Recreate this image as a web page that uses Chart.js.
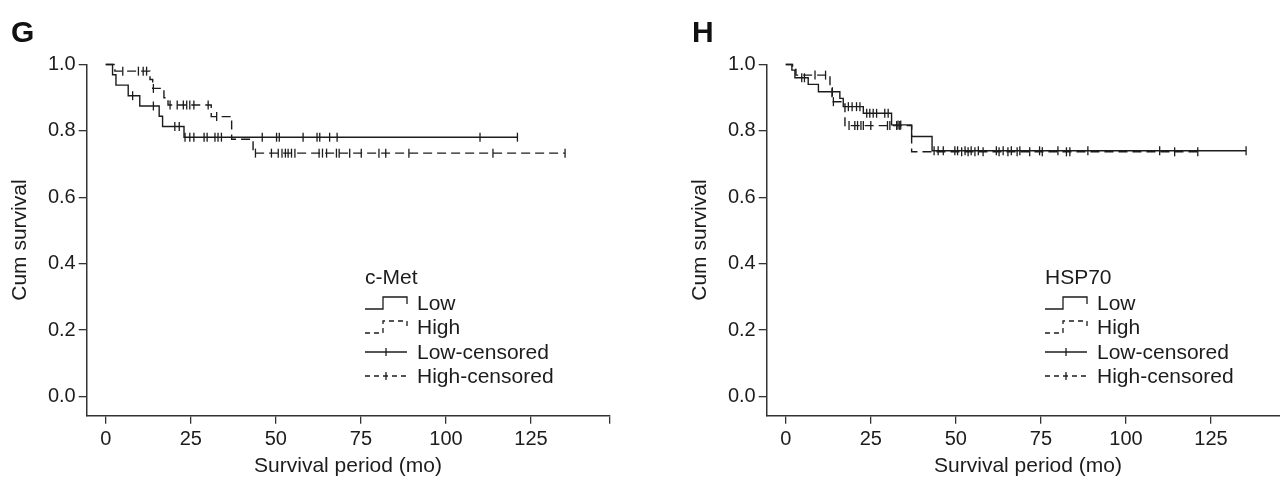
<!DOCTYPE html>
<html>
<head>
  <title>Survival curves - c-Met / HSP70</title>
  <script src="https://cdn.jsdelivr.net/npm/chart.js"></script>
  <style>
    html, body { margin: 0; padding: 0; background: #fff; }
    #wrap { position: relative; width: 1280px; height: 483px; overflow: hidden; }
    canvas { position: absolute; top: 0; }
    #chartG { left: 0; }
    #chartH { left: 680px; }
    .panel { position: absolute; top: 15px; font: bold 30px "Liberation Sans", Arial, sans-serif; color: #111; }
  </style>
</head>
<body>
  <div id="wrap">
    <canvas id="chartG" width="640" height="483"></canvas>
    <canvas id="chartH" width="640" height="483"></canvas>
    <div class="panel" style="left:11px">G</div>
    <div class="panel" style="left:692px">H</div>
  </div>

  <script>
    const X_TICKS = [0, 25, 50, 75, 100, 125, 148];
    const Y_TICKS = [0, 0.2, 0.4, 0.6, 0.8, 1.0];
    const LEGEND_LABELS = ["Low", "High", "Low-censored", "High-censored"];

    // c-Met (G)
    const cmetLowTime = [0, 2, 3, 6.6, 10, 15.7, 16.7, 23, 121];
    const cmetLowSurv = [1, 0.969, 0.938, 0.906, 0.875, 0.844, 0.813, 0.781, 0.781];
    const cmetLowCens = [7.9, 14, 20.3, 21.6, 23.3, 24.7, 25.9, 28.9, 29.8, 32.1, 33, 34, 46, 50.2, 51, 58, 62.1, 62.9, 65.8, 68, 110, 121];
    const cmetHighTime = [0, 2.7, 13, 13.8, 17.1, 18.3, 31, 37, 43.3, 135];
    const cmetHighSurv = [1, 0.98, 0.955, 0.928, 0.9, 0.878, 0.843, 0.775, 0.733, 0.733];
    const cmetHighCens = [5, 9.6, 11, 12, 14, 18.9, 21, 22.8, 23.8, 24.7, 25.9, 30.1, 32.6, 44, 48.7, 50.7, 51.8, 52.8, 53.6, 54.6, 55.6, 62.7, 63.7, 64.9, 67.8, 68.6, 71.7, 75.1, 80.3, 82.3, 89.1, 113.8, 135];

    // HSP70 (H)
    const hspLowTime = [0, 1.8, 2.7, 6.6, 9.6, 15.9, 16.9, 22.8, 31.1, 37, 43, 135.3];
    const hspLowSurv = [1, 0.983, 0.96, 0.94, 0.918, 0.898, 0.873, 0.853, 0.818, 0.783, 0.74, 0.74];
    const hspLowCens = [4.7, 5.5, 13.7, 18.4, 19.5, 20.8, 21.8, 23.8, 24.7, 25.7, 26.7, 29.1, 30.1, 33, 33.8, 43.6, 44.8, 46.3, 49.7, 50.5, 52.7, 54.5, 56.6, 61.9, 63.9, 66.3, 68.8, 74.6, 80, 88.8, 109.9, 135.3];
    const hspHighTime = [0, 2, 3, 13, 13.6, 17.4, 37, 121.1];
    const hspHighSurv = [1, 0.985, 0.968, 0.93, 0.888, 0.816, 0.737, 0.737];
    const hspHighCens = [8.6, 11.7, 14, 18.6, 20.3, 21.1, 22.1, 22.8, 25, 29.9, 30.6, 32.6, 33.5, 51.7, 53.6, 55.6, 58, 62.7, 65.3, 68, 71.7, 75.4, 82.5, 83.5, 114.3, 121.1];

    const INK = "#1c1c1c";
    const FONT = "Liberation Sans, Arial, sans-serif";
    const DASH = [9, 5];

    // survival value of a step curve at time t
    function survAt(times, survs, t) {
      let s = survs[0];
      for (let i = 0; i < times.length; i++) if (times[i] <= t) s = survs[i];
      return s;
    }

    function stepSet(times, survs, dashed) {
      return {
        data: times.map((t, i) => ({ x: t, y: survs[i] })),
        stepped: "before", // horizontal first, then the drop
        borderColor: INK,
        borderWidth: 1.4,
        borderDash: dashed ? DASH : [],
        pointRadius: 0,
        fill: false,
        clip: false
      };
    }

    function censorSet(cens, times, survs) {
      return {
        data: cens.map(t => ({ x: t, y: survAt(times, survs, t) })),
        showLine: false,
        pointStyle: "line",
        pointRotation: 90,
        pointRadius: 4.5,
        pointBorderColor: INK,
        pointBorderWidth: 1.3,
        clip: false
      };
    }

    // hand-drawn legend box like the SPSS output
    const kmLegend = {
      id: "kmLegend",
      afterDraw(chart, args, opts) {
        const ctx = chart.ctx;
        const x0 = 365, sx1 = 407, tx = 417;
        const rows = [303, 327, 352, 376];
        ctx.save();
        ctx.fillStyle = INK;
        ctx.strokeStyle = INK;
        ctx.lineWidth = 1.3;
        ctx.font = "21px " + FONT;
        ctx.textBaseline = "middle";
        ctx.fillText(opts.title, x0, 278);
        rows.forEach((y, i) => {
          ctx.setLineDash(i % 2 ? [5, 4] : []);
          ctx.beginPath();
          if (i < 2) {
            ctx.moveTo(x0, y + 6);
            ctx.lineTo(383, y + 6);
            ctx.lineTo(383, y - 6);
            ctx.lineTo(sx1, y - 6);
            ctx.lineTo(sx1, y + 1);
          } else {
            ctx.moveTo(x0, y);
            ctx.lineTo(sx1, y);
          }
          ctx.stroke();
          if (i >= 2) {
            ctx.setLineDash([]);
            ctx.beginPath();
            ctx.moveTo(386, y - 4);
            ctx.lineTo(386, y + 4);
            ctx.stroke();
          }
          ctx.fillText(LEGEND_LABELS[i], tx, y + 1);
        });
        ctx.restore();
      }
    };

    function makeChart(id, title, lowT, lowS, lowC, highT, highS, highC) {
      const axisCommon = {
        type: "linear",
        border: { display: true, color: "#333", width: 1.5 },
        grid: { display: true, drawOnChartArea: false, drawTicks: true, tickLength: 8, color: "#333", lineWidth: 1.3 },
        title: { display: true, color: INK, font: { family: FONT, size: 21 } }
      };
      return new Chart(document.getElementById(id), {
        type: "line",
        data: {
          datasets: [
            stepSet(lowT, lowS, false),
            stepSet(highT, highS, true),
            censorSet(lowC, lowT, lowS),
            censorSet(highC, highT, highS)
          ]
        },
        options: {
          responsive: false,
          animation: false,
          layout: { padding: { top: 64.5, right: 30.7, left: 0, bottom: 0 } },
          plugins: {
            legend: { display: false },
            tooltip: { enabled: false },
            kmLegend: { title: title }
          },
          scales: {
            x: {
              ...axisCommon,
              min: -5.6,
              max: 148,
              afterFit: s => { s.height = 67.3; },
              afterBuildTicks: s => { s.ticks = X_TICKS.map(v => ({ value: v })); },
              ticks: {
                color: INK, padding: 4, maxRotation: 0, autoSkip: false,
                font: { family: FONT, size: 20 },
                callback: v => (v === 148 ? "" : v)
              },
              title: { ...axisCommon.title, text: "Survival period (mo)", padding: { top: 0, bottom: 4 } }
            },
            y: {
              ...axisCommon,
              min: -0.058,
              max: 1.0,
              afterFit: s => { s.width = 86.7; },
              afterBuildTicks: s => { s.ticks = Y_TICKS.map(v => ({ value: v })); },
              ticks: {
                color: INK, padding: 3,
                font: { family: FONT, size: 20 },
                callback: v => v.toFixed(1)
              },
              title: { ...axisCommon.title, text: "Cum survival", padding: { top: 8, bottom: 0 } }
            }
          }
        },
        plugins: [kmLegend]
      });
    }

    makeChart("chartG", "c-Met", cmetLowTime, cmetLowSurv, cmetLowCens, cmetHighTime, cmetHighSurv, cmetHighCens);
    makeChart("chartH", "HSP70", hspLowTime, hspLowSurv, hspLowCens, hspHighTime, hspHighSurv, hspHighCens);
  </script>
</body>
</html>
